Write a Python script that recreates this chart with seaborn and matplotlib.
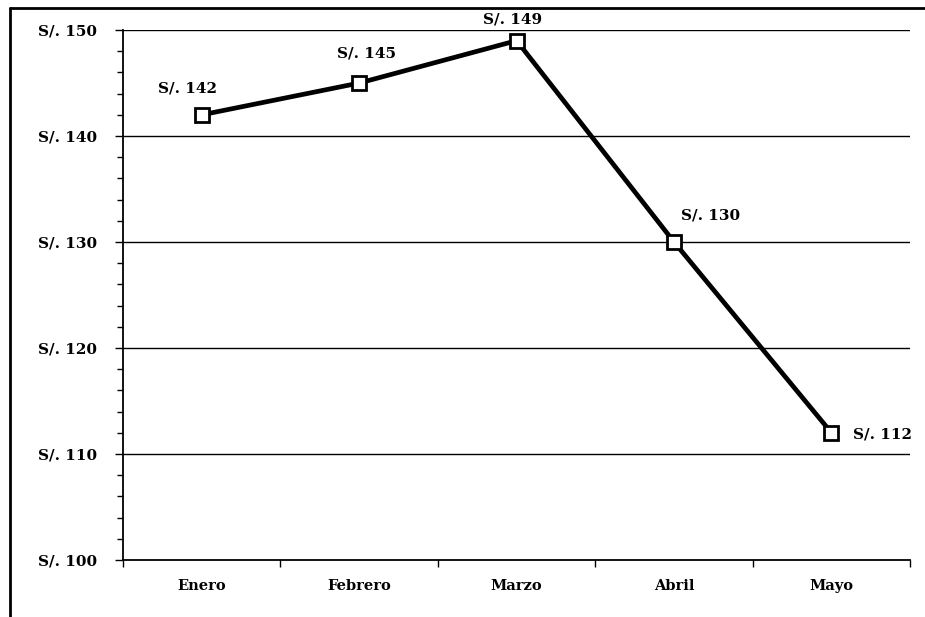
import matplotlib
matplotlib.use("Agg")
import matplotlib.pyplot as plt
from matplotlib.ticker import MultipleLocator, FixedLocator, NullFormatter
from matplotlib.lines import Line2D
import seaborn as sns
import pandas as pd

meses = ["Enero", "Febrero", "Marzo", "Abril", "Mayo"]
precios = [142, 145, 149, 130, 112]
etiquetas_y = ["S/. 100", "S/. 110", "S/. 120", "S/. 130", "S/. 140", "S/. 150"]
valores_y = [100, 110, 120, 130, 140, 150]

sns.set_theme(style="white", rc={"text.color": "black", "xtick.color": "black",
                                 "ytick.color": "black", "axes.labelcolor": "black"})
plt.rcParams["font.family"] = ["DejaVu Serif", "Liberation Serif"]

df = pd.DataFrame({"mes": meses, "precio": precios})
df["pos"] = range(len(meses))

fig = plt.figure(figsize=(9.25, 6.17), dpi=100)
ax = fig.add_axes([0.133, 0.0924, 0.851, 0.8589])

# horizontal grid lines
for v in valores_y[1:]:
    ax.axhline(v, color="black", lw=1.0, zorder=1)

sns.lineplot(data=df, x="pos", y="precio", ax=ax, color="black", lw=3.4,
             marker="s", markersize=10, markerfacecolor="white",
             markeredgecolor="black", markeredgewidth=2.0, zorder=3)

# value labels
offsets = [(-10, 19), (5, 21), (-3, 15), (26, 19), (37, -1)]
for x, y, off in zip(df["pos"], precios, offsets):
    ax.annotate(f"S/. {y}", (x, y), xytext=off, textcoords="offset points",
                ha="center", va="center", fontsize=11, fontweight="bold",
                color="black", zorder=4)

ax.set_xlim(-0.5, len(meses) - 0.5)
ax.set_ylim(100, 150)
ax.set_xticks(range(len(meses)))
ax.set_xticklabels(meses, fontsize=10.5, fontweight="bold", color="black")
ax.xaxis.set_minor_locator(FixedLocator([i + 0.5 for i in range(-1, len(meses))]))
ax.xaxis.set_minor_formatter(NullFormatter())
ax.tick_params(axis="x", which="major", length=0, pad=14)
ax.tick_params(axis="x", which="minor", length=5, width=1, color="black", direction="out", bottom=True)

ax.set_yticks(valores_y)
ax.set_yticklabels(etiquetas_y, fontsize=11, fontweight="bold", color="black")
ax.yaxis.set_minor_locator(MultipleLocator(2))
ax.tick_params(axis="y", which="major", length=6, width=1, color="black", direction="out", left=True, pad=13)
ax.tick_params(axis="y", which="minor", length=4, width=1, color="black", direction="out", left=True)

ax.set_xlabel("")
ax.set_ylabel("")
for s in ["top", "right"]:
    ax.spines[s].set_visible(False)
for s in ["left", "bottom"]:
    ax.spines[s].set_color("black")
    ax.spines[s].set_linewidth(1.3)

# outer frame (left and top edges)
fig.add_artist(Line2D([10 / 925, 10 / 925], [0, 1 - 8 / 617], transform=fig.transFigure,
                      color="black", lw=2))
fig.add_artist(Line2D([10 / 925, 1], [1 - 8 / 617, 1 - 8 / 617], transform=fig.transFigure,
                      color="black", lw=2))

fig.savefig("out.png", dpi=100)
